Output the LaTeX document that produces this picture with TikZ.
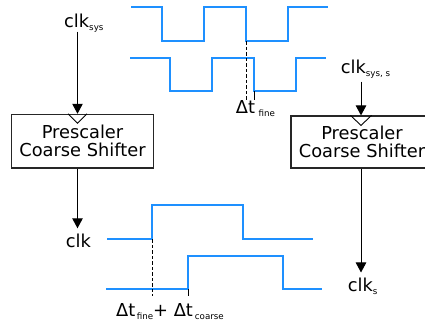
\documentclass[tikz,border=0pt]{standalone}
\usepackage{fontspec}
\setmainfont{DejaVu Sans}
\usetikzlibrary{arrows.meta}
\definecolor{wave}{RGB}{30,144,255}
% lowered small index text
\newcommand\lo[1]{\raisebox{-3pt}{\fontsize{8.7}{9}\selectfont #1}}

\begin{document}
\begin{tikzpicture}[x=1pt,y=-1pt,
  lbl/.style={inner sep=0pt,anchor=base west,font=\fontsize{17.8}{18}\selectfont},
  blk/.style={draw=black!85,line width=1.2pt,align=center,inner sep=0pt,
    font=\fontsize{17.8}{18}\selectfont},
  sig/.style={draw=wave,line width=2pt,line join=miter},
  arr/.style={draw=black,line width=1pt,-{Triangle[length=10pt,width=10.5pt]}},
  clkin/.style={draw=black,line width=0.9pt},
  tickline/.style={draw=black,line width=1pt},
  dashline/.style={tickline,dash pattern=on 3.5pt off 2pt}]
\useasboundingbox (0,0) rectangle (425,324);

% signal labels
\node[lbl] (clksys)  at (64,27.3)    {clk\lo{sys}};
\node[lbl] (clksyss) at (340.7,73.3) {clk\lo{sys, s}};
\node[lbl] (clk)     at (65.7,247.5) {clk};
\node[lbl] (clks)    at (347.7,291.7){clk\lo{s}};

% prescaler blocks
\node[blk,minimum width=142.4pt,minimum height=53.7pt] (boxA) at (82.5,141.2)
  {Prescaler\\Coarse Shifter};
\node[blk,minimum width=142pt,minimum height=52pt] (boxB) at (362,142)
  {Prescaler\\Coarse Shifter};

% clock input paths
\coordinate (xa) at (77.5,31.7);
\coordinate (xb) at (361,81.7);
\draw[arr] (xa) -- (xa |- boxA.north);
\draw[arr] (xb) -- (xb |- boxB.north);
\draw[clkin] (xa |- boxA.north) ++(-9.5,0) -- ++(9.5,9.5) -- ++(9.5,-9.5);
\draw[clkin] (xb |- boxB.north) ++(-10.5,0) -- ++(10.5,10) -- ++(10.5,-10);

% clock output paths
\draw[arr,shorten >=5.5pt] (xa |- boxA.south) -- (xa |- clk.north);
\draw[arr,shorten >=5.5pt] (xb |- boxB.south) -- (xb |- clks.north);

% fine shift waveforms
\draw[sig] (131,7.3) -- (162,7.3) -- (162,41.3) -- (204,41.3) -- (204,7.3)
  -- (246,7.3) -- (246,41.3) -- (288,41.3) -- (288,7.3) -- (328,7.3);
\draw[sig] (130,58.3) -- (170,58.3) -- (170,90.7) -- (212,90.7) -- (212,58.3)
  -- (254,58.3) -- (254,90.7) -- (296,90.7) -- (296,58.3) -- (326,58.3);
\draw[dashline] (246,41.3) -- (246,100);
\draw[tickline] (254,90.7) -- (254,100);
\node[lbl] (dtf) at (235.7,113) {Δt\hspace{3.5pt}\lo{fine}};

% coarse shift waveforms
\draw[sig] (107,239.3) -- (152.3,239.3) -- (152.3,205.3) -- (242.7,205.3)
  -- (242.7,239.3) -- (312.7,239.3);
\draw[sig] (106,289.3) -- (188.3,289.3) -- (188.3,256.3) -- (283,256.3)
  -- (283,289.3) -- (321.7,289.3);
\draw[dashline] (152.3,239.3) -- (152.3,296);
\draw[tickline] (188.3,289.3) -- (188.3,296);
\node[lbl] (dtc) at (116,316)
  {Δt\hspace{1.5pt}\lo{fine}+ Δt\hspace{2pt}\lo{coarse}};
\end{tikzpicture}
\end{document}
